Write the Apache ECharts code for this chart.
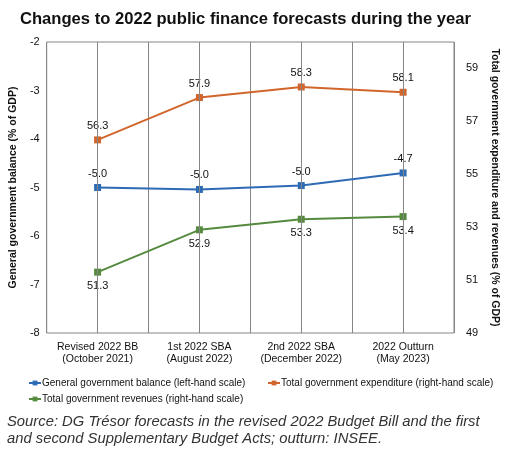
<!DOCTYPE html>
<html>
<head>
<meta charset="utf-8">
<script src="https://cdn.jsdelivr.net/npm/echarts@6/dist/echarts.min.js"></script>
<style>
html,body{margin:0;padding:0;background:#fff;}
#chart{width:511px;height:452px;}
</style>
</head>
<body>
<div id="chart"></div>
<script>
const categories = ['Revised 2022 BB\n(October 2021)', '1st 2022 SBA\n(August 2022)', '2nd 2022 SBA\n(December 2022)', '2022 Outturn\n(May 2023)'];
const balance = [-5.0, -5.04, -4.96, -4.7];
const expenditure = [56.3, 57.9, 58.3, 58.1];
const revenues = [51.3, 52.9, 53.3, 53.4];
const seriesNames = ['General government balance (left-hand scale)', 'Total government expenditure (right-hand scale)', 'Total government revenues (right-hand scale)'];
const titleText = 'Changes to 2022 public finance forecasts during the year';
const sourceText = 'Source: DG Trésor forecasts in the revised 2022 Budget Bill and the first\nand second Supplementary Budget Acts; outturn: INSEE.';
const leftAxisName = 'General government balance (% of GDP)';
const rightAxisName = 'Total government expenditure and revenues (% of GDP)';

const FONT = 'Liberation Sans, Arial, sans-serif';
const colors = ['#2e6bb5', '#d2652b', '#558a3f'];
const gridColor = '#868686';

const chart = echarts.init(document.getElementById('chart'), null, {renderer: 'canvas'});

function mkSeries(i, data, yIdx, pos) {
  return {
    name: seriesNames[i],
    type: 'line',
    yAxisIndex: yIdx,
    data: data,
    symbol: 'rect',
    symbolSize: 7,
    color: colors[i],
    lineStyle: {width: 2, color: colors[i]},
    itemStyle: {color: colors[i]},
    label: {
      show: true, position: pos, distance: 5,
      formatter: p => p.value.toFixed(1),
      fontFamily: FONT, fontSize: 11, color: '#111'
    },
    animation: false,
    z: 3
  };
}

const s0 = mkSeries(0, balance, 0, 'top');
s0.markLine = {
  silent: true, symbol: ['none', 'none'], animation: false,
  label: {show: false},
  lineStyle: {color: gridColor, width: 1, type: 'solid'},
  data: categories.map(c => ({xAxis: c}))
};

const legendBase = {
  itemWidth: 12, itemHeight: 6, itemGap: 0,
  textStyle: {fontFamily: FONT, fontSize: 10, color: '#111', padding: [0,0,0,-4]},
  padding: 0
};

const option = {
  animation: false,
  backgroundColor: '#fff',
  title: {
    text: titleText, left: 15, top: 6,
    textStyle: {fontFamily: FONT, fontSize: 16.6, fontWeight: 'bold', color: '#111'}
  },
  grid: {left: 37, right: 57, top: 42, bottom: 119, show: true, borderColor: gridColor, borderWidth: 1, containLabel: false},
  legend: [
    Object.assign({}, legendBase, {left: 28, top: 378, data: [seriesNames[0]]}),
    Object.assign({}, legendBase, {left: 267, top: 378, data: [seriesNames[1]]}),
    Object.assign({}, legendBase, {left: 28, top: 394, data: [seriesNames[2]]})
  ],
  xAxis: {
    type: 'category', data: categories, boundaryGap: true,
    axisLine: {show: false}, axisTick: {show: false},
    splitLine: {show: true, lineStyle: {color: gridColor, width: 1}},
    axisLabel: {fontFamily: FONT, fontSize: 10.5, color: '#111', margin: 8, lineHeight: 12, interval: 0}
  },
  yAxis: [
    {
      type: 'value', min: -8, max: -2, interval: 1, position: 'left',
      axisLine: {show: false}, axisTick: {show: false}, splitLine: {show: false},
      axisLabel: {fontFamily: FONT, fontSize: 11, color: '#111', margin: 7},
      name: leftAxisName, nameLocation: 'middle', nameRotate: 90, nameGap: 18,
      nameTextStyle: {fontFamily: FONT, fontSize: 10.5, fontWeight: 'bold', color: '#111'}
    },
    {
      type: 'value', min: 49, max: 60, interval: 2, position: 'right',
      axisLine: {show: false}, axisTick: {show: false}, splitLine: {show: false},
      axisLabel: {fontFamily: FONT, fontSize: 11, color: '#111', margin: 12, showMaxLabel: false},
      name: rightAxisName, nameLocation: 'middle', nameRotate: -90, nameGap: 27,
      nameTextStyle: {fontFamily: FONT, fontSize: 10.5, fontWeight: 'bold', color: '#111'}
    }
  ],
  graphic: [{
    type: 'text', left: 7, top: 413,
    style: {text: sourceText, fontFamily: FONT, fontSize: 14.8, fontStyle: 'italic', fill: '#333', lineHeight: 17}
  }],
  series: [
    s0,
    mkSeries(1, expenditure, 1, 'top'),
    mkSeries(2, revenues, 1, 'bottom')
  ]
};
chart.setOption(option);
</script>
</body>
</html>
